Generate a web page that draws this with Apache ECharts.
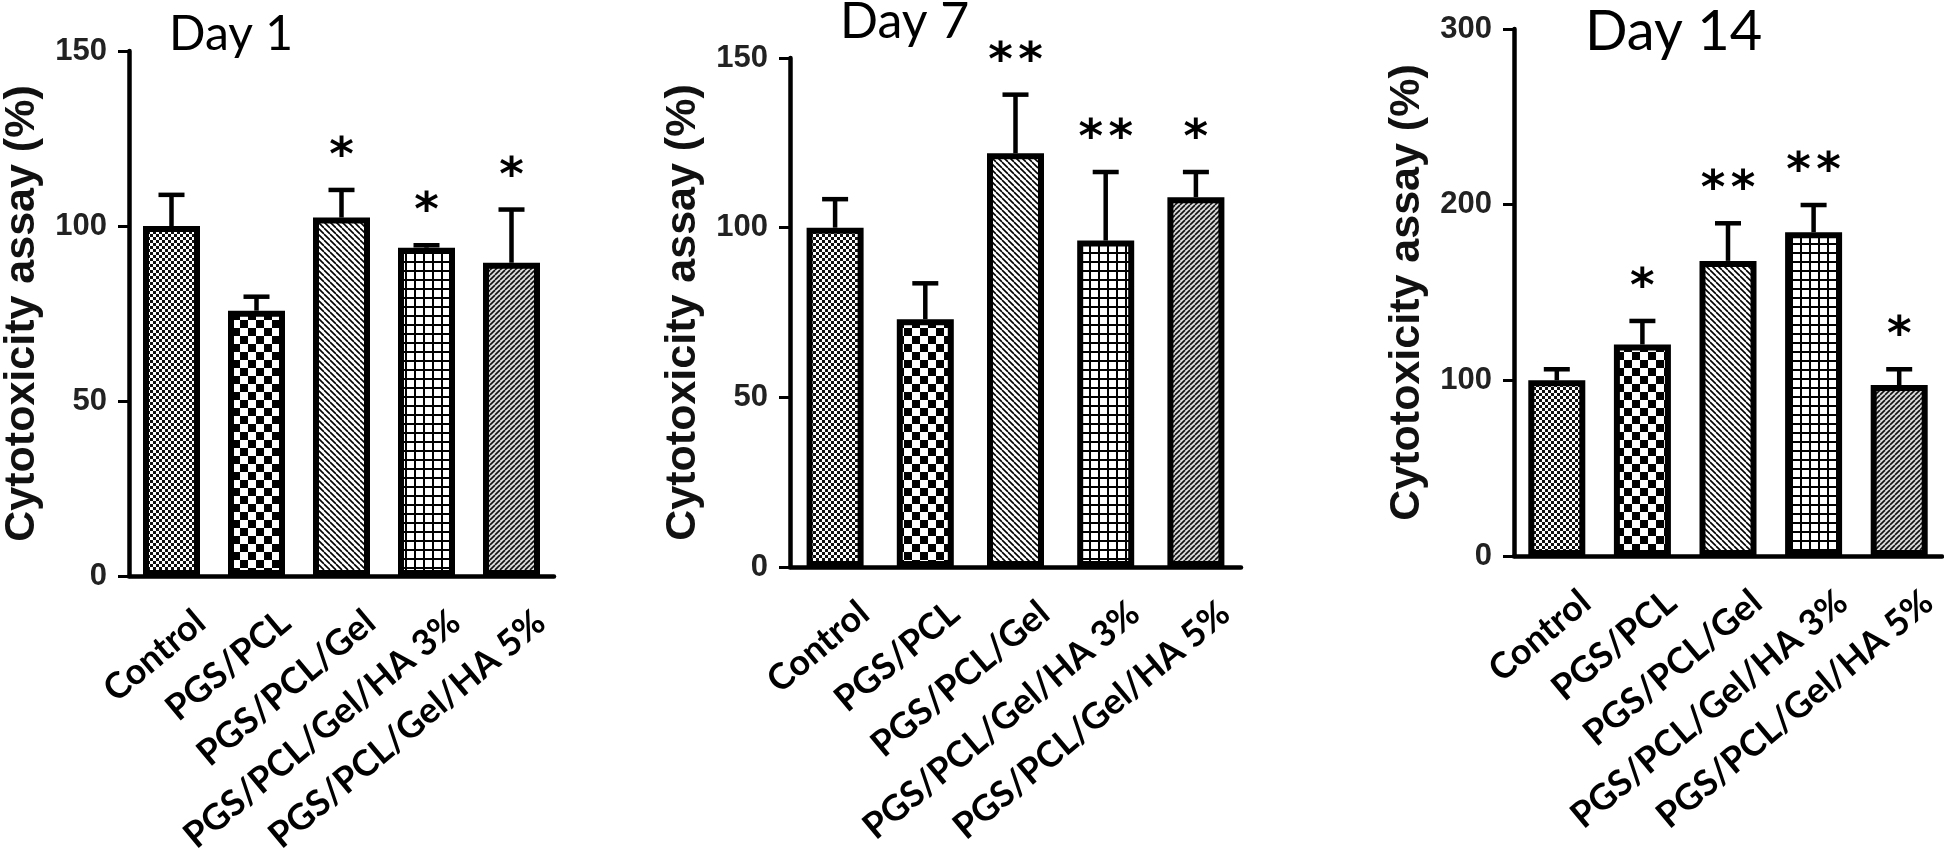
<!DOCTYPE html>
<html>
<head>
<meta charset="utf-8">
<script src="https://cdn.jsdelivr.net/npm/echarts@6/dist/echarts.min.js"></script>
<style>
  html, body { margin: 0; padding: 0; background: #fff; }
  #chart { width: 1944px; height: 848px; }
</style>
</head>
<body>
<div id="chart"></div>
<script>
// ---------- data ----------
const categories = ['Control', 'PGS/PCL', 'PGS/PCL/Gel', 'PGS/PCL/Gel/HA 3%', 'PGS/PCL/Gel/HA 5%'];
const panelTitles = ['Day 1', 'Day 7', 'Day 14'];
const yAxisName = 'Cytotoxicity assay (%)';

const day1Mean = [100, 75.8, 102.4, 93.8, 89.5];
const day1Err  = [8.9, 4.0, 7.9, 0.7, 15.2];
const day1Sig  = ['', '', '*', '*', '*'];

const day7Mean = [100, 73.0, 121.9, 96.2, 109.0];
const day7Err  = [8.4, 10.6, 17.3, 20.2, 7.4];
const day7Sig  = ['', '', '**', '**', '*'];

const day14Mean = [100, 120.4, 168.0, 184.3, 97.3];
const day14Err  = [6.3, 13.4, 21.4, 15.5, 9.0];
const day14Sig  = ['', '*', '**', '**', '*'];

const yMax = [150, 150, 300];
const yInterval = [50, 50, 100];

// ---------- fill patterns ----------
function makePattern(size, draw) {
  const c = document.createElement('canvas');
  c.width = size; c.height = size;
  const ctx = c.getContext('2d');
  ctx.fillStyle = '#fff';
  ctx.fillRect(0, 0, size, size);
  draw(ctx, size);
  return { image: c, repeat: 'repeat' };
}
const patterns = [
  makePattern(6, (ctx) => { ctx.fillStyle = '#111'; ctx.fillRect(0, 0, 3, 3); ctx.fillRect(3, 3, 3, 3); }),
  makePattern(16, (ctx) => { ctx.fillStyle = '#000'; ctx.fillRect(0, 0, 8, 8); ctx.fillRect(8, 8, 8, 8); }),
  makePattern(6, (ctx, s) => {
    ctx.strokeStyle = '#000'; ctx.lineWidth = 1.6;
    for (let k = -1; k <= 1; k++) { ctx.beginPath(); ctx.moveTo(k * s, 0); ctx.lineTo(k * s + s, s); ctx.stroke(); }
  }),
  makePattern(9, (ctx) => { ctx.fillStyle = '#000'; ctx.fillRect(0, 0, 9, 2); ctx.fillRect(0, 0, 2, 9); }),
  makePattern(5, (ctx, s) => {
    ctx.fillStyle = '#dcdcdc'; ctx.fillRect(0, 0, s, s);
    ctx.strokeStyle = '#111'; ctx.lineWidth = 1.6;
    for (let k = -1; k <= 1; k++) { ctx.beginPath(); ctx.moveTo(k * s, s); ctx.lineTo(k * s + s, 0); ctx.stroke(); }
  })
];

// x-label font size: fit the longest label to the length it has in the reference
const measureCtx = document.createElement('canvas').getContext('2d');
measureCtx.font = 'bold 100px Lato';
const xLabelSize = Math.round(100 * 348 / measureCtx.measureText(categories[4]).width * 10) / 10;

// ---------- layout ----------
const grids = [
  { left: 129, top: 51, width: 425, height: 525 },
  { left: 790, top: 58, width: 451, height: 509 },
  { left: 1514, top: 29, width: 428, height: 527 }
];
const titlePos = [
  { left: 169, top: 11, size: 48 },
  { left: 840, top: -3, size: 50 },
  { left: 1585, top: 4, size: 56 }
];

const means = [day1Mean, day7Mean, day14Mean];
const errs = [day1Err, day7Err, day14Err];
const sigs = [day1Sig, day7Sig, day14Sig];

const xAxes = [], yAxes = [], series = [], titles = [];
for (let p = 0; p < 3; p++) {
  titles.push({
    text: panelTitles[p], left: titlePos[p].left, top: titlePos[p].top, padding: 0,
    textStyle: { fontFamily: 'Lato', fontWeight: 'normal', fontSize: titlePos[p].size, color: '#000' }
  });
  xAxes.push({
    type: 'category', gridIndex: p, data: categories,
    axisLine: { lineStyle: { color: '#000', width: 4.5 } },
    axisTick: { alignWithLabel: true, length: 14, lineStyle: { color: '#000', width: 3.5 } },
    axisLabel: {
      interval: 0, rotate: 40, margin: 7, color: '#000',
      fontFamily: 'Lato', fontWeight: 'bold', fontSize: xLabelSize,
      verticalAlign: 'top', lineHeight: 38, padding: [26, 0, 0, 0]
    },
    splitLine: { show: false }
  });
  yAxes.push({
    type: 'value', gridIndex: p, min: 0, max: yMax[p], interval: yInterval[p],
    name: yAxisName, nameLocation: 'middle', nameRotate: 90, nameGap: 85,
    nameTextStyle: { fontFamily: "'Liberation Sans', Arial, sans-serif", fontWeight: 'bold', fontSize: 43, color: '#111' },
    axisLine: { show: true, lineStyle: { color: '#000', width: 4.5 } },
    axisTick: { show: true, length: 11, lineStyle: { color: '#000', width: 3 } },
    axisLabel: { margin: 22, color: '#222', fontFamily: "'Liberation Sans', Arial, sans-serif", fontWeight: 'bold', fontSize: 31 },
    splitLine: { show: false }
  });
  series.push({
    type: 'bar', xAxisIndex: p, yAxisIndex: p, barWidth: 57, z: 2,
    data: means[p].map((v, i) => ({ value: v, itemStyle: { color: patterns[i] } })),
    itemStyle: { borderColor: '#000', borderWidth: 6 }
  });
  series.push({
    type: 'custom', xAxisIndex: p, yAxisIndex: p, z: 3,
    data: means[p].map((v, i) => [i, v, errs[p][i]]),
    renderItem: (params, api) => {
      const i = api.value(0), m = api.value(1), e = api.value(2);
      const base = api.coord([i, m]);
      const top = api.coord([i, m + e]);
      const cap = 26;
      const st = { stroke: '#000', lineWidth: 4.5 };
      return {
        type: 'group', children: [
          { type: 'line', shape: { x1: base[0], y1: base[1], x2: top[0], y2: top[1] }, style: st },
          { type: 'line', shape: { x1: top[0] - cap / 2, y1: top[1], x2: top[0] + cap / 2, y2: top[1] }, style: st }
        ]
      };
    }
  });
  series.push({
    type: 'custom', xAxisIndex: p, yAxisIndex: p, z: 4,
    data: means[p].map((v, i) => [i, v + errs[p][i]]),
    renderItem: (params, api) => {
      const i = api.value(0), t = api.value(1);
      const s = sigs[p][i];
      const pt = api.coord([i, t]);
      const n = s.length;
      const spacing = 30;
      const children = [];
      for (let k = 0; k < n; k++) {
        children.push({
          type: 'text',
          x: pt[0] + (k - (n - 1) / 2) * spacing,
          y: pt[1] - 32,
          style: {
            text: '*', fill: '#000', fontFamily: 'DejaVu Sans', fontWeight: 'bold', fontSize: 47,
            align: 'center', verticalAlign: 'middle'
          }
        });
      }
      return { type: 'group', children };
    }
  });
}

const chart = echarts.init(document.getElementById('chart'), null, { renderer: 'canvas' });
chart.setOption({
  animation: false,
  backgroundColor: '#fff',
  title: titles,
  grid: grids.map(g => Object.assign({ containLabel: false, outerBoundsMode: 'none' }, g)),
  xAxis: xAxes,
  yAxis: yAxes,
  series
});
</script>
</body>
</html>
